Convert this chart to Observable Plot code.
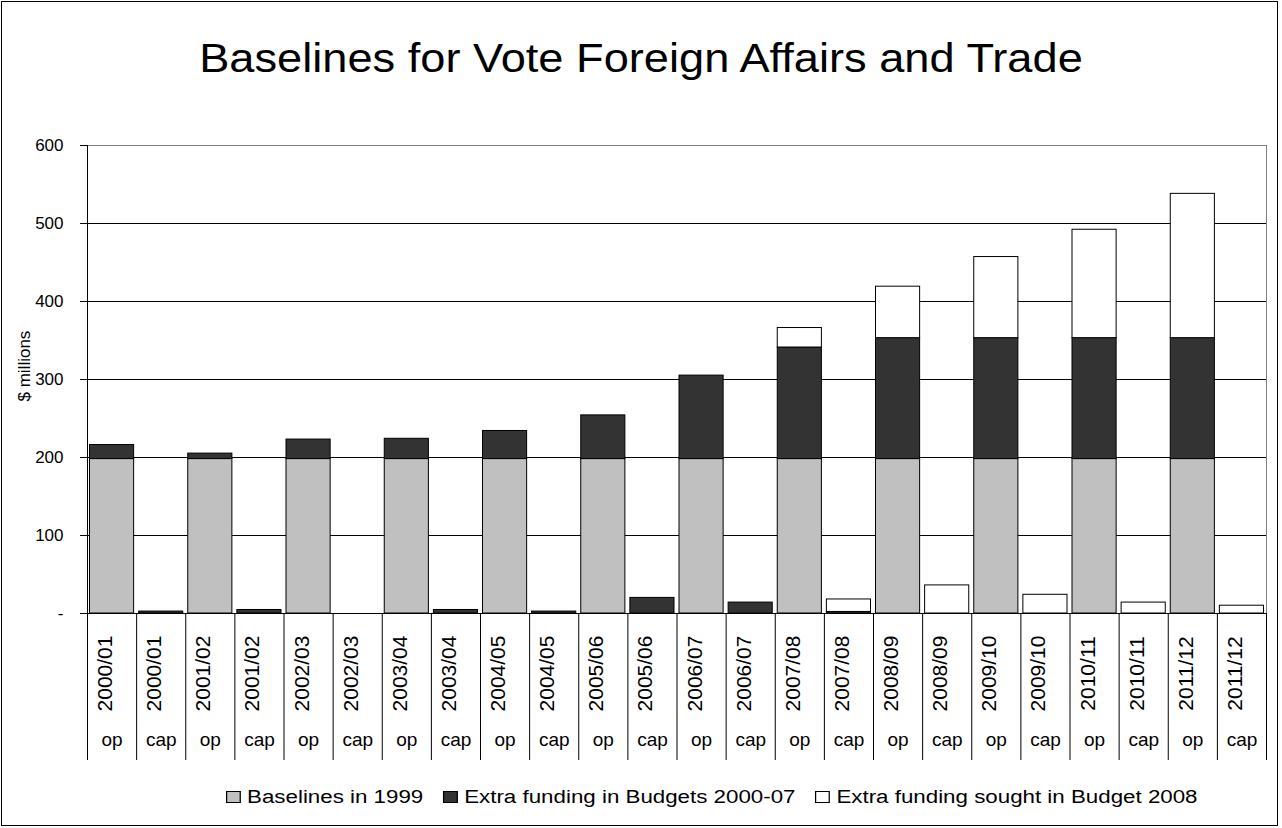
<!DOCTYPE html>
<html><head><meta charset="utf-8">
<script src="https://cdn.jsdelivr.net/npm/d3@7"></script>
<script src="https://cdn.jsdelivr.net/npm/@observablehq/plot@0.6"></script>
<style>
body{margin:0;background:#fff;font-family:Arial,"Liberation Sans",sans-serif;color:#000;}
#wrap{position:relative;width:1282px;height:828px;overflow:hidden;background:#fff;}
#frame{position:absolute;left:1px;top:1px;width:1277px;height:825px;border:1px solid #000;box-sizing:border-box;}
#title{position:absolute;left:0;width:1282px;top:38px;text-align:center;font-size:40px;line-height:40px;white-space:nowrap;}
#title span{display:inline-block;transform:scaleX(1.13);}
#chart{position:absolute;left:0;top:0;}
#legend{position:absolute;top:787px;left:0;width:1282px;height:20px;display:flex;justify-content:center;font-size:18px;line-height:20px;white-space:nowrap;}
#legend .inner{display:flex;gap:16px;transform:translateX(71px) scaleX(1.24);}
#legend .item{display:flex;align-items:center;gap:5px;}
#legend .sw{width:10px;height:10px;border:1px solid #000;}
</style></head>
<body>
<div id="wrap">
  <div id="frame"></div>
  <div id="chart"></div>
  <div id="title"><span>Baselines for Vote Foreign Affairs and Trade</span></div>
  <div id="legend"><div class="inner"></div></div>
</div>
<script>
// ---- data ----
const years = ["2000/01","2001/02","2002/03","2003/04","2004/05","2005/06","2006/07","2007/08","2008/09","2009/10","2010/11","2011/12"];
const kinds = ["op","cap"];
const seriesNames = ["Baselines in 1999","Extra funding in Budgets 2000-07","Extra funding sought in Budget 2008"];
const seriesColors = ["#c0c0c0","#333333","#ffffff"];
const baselineOp  = [198,198,198,198,198,198,198,198,198,198,198,198];
const baselineCap = [0,0,0,0,0,0,0,0,0,0,0,0];
const extraOp     = [18,7,25,26,36,56,107,143,155,155,155,155];
const extraCap    = [2.5,4.5,0,4.5,2.5,20,14,2,0,0,0,0];
const soughtOp    = [0,0,0,0,0,0,0,25,66,104,139,185];
const soughtCap   = [0,0,0,0,0,0,0,16,36,24,14,10];
const yTicks      = [0,100,200,300,400,500,600];
const yTickLabels = ["-","100","200","300","400","500","600"];
const yLabel = "$ millions";

// ---- build table ----
const keys = [];
const cats = [];
years.forEach(y => kinds.forEach(k => { keys.push(y + " " + k); cats.push({key: y + " " + k, year: y, kind: k}); }));
const rows = [];
years.forEach((y, i) => {
  const vals = {op: [baselineOp[i], extraOp[i], soughtOp[i]], cap: [baselineCap[i], extraCap[i], soughtCap[i]]};
  kinds.forEach(k => vals[k].forEach((v, s) => rows.push({key: y + " " + k, series: seriesNames[s], value: v})));
});

const W = 1282, H = 775, mL = 87, mR = 16, mT = 145, mB = 162;
const step = (W - mL - mR) / keys.length;
const plotH = H - mT - mB;
const sepLen = 147;

const chart = Plot.plot({
  width: W, height: H, marginLeft: mL, marginRight: mR, marginTop: mT, marginBottom: mB,
  style: {fontFamily: "Arial, 'Liberation Sans', sans-serif", fontSize: "17px", color: "#000", background: "transparent", overflow: "visible"},
  x: {type: "band", domain: keys, padding: 0, round: false, axis: null},
  y: {domain: [0, 600], ticks: yTicks, tickSize: 7, tickPadding: 17, label: null,
      tickFormat: d => yTickLabels[yTicks.indexOf(d)]},
  color: {domain: seriesNames, range: seriesColors},
  marks: [
    Plot.frame({stroke: "#808080"}),
    Plot.ruleY(yTicks.filter(d => d > 0 && d < 600), {stroke: "#000"}),
    Plot.barY(rows.filter(d => d.value > 0), {x: "key", y: "value", fill: "series", stroke: "#000", strokeWidth: 1,
      order: seriesNames, insetLeft: 2.5, insetRight: 2.5}),
    // left axis line
    Plot.ruleX([keys[0]], {x: d => d, dx: -step / 2, stroke: "#000"}),
    // bottom axis line
    Plot.ruleY([0], {stroke: "#000"}),
    // category separators below the axis
    Plot.ruleX(keys, {x: d => d, dx: -step / 2, insetTop: plotH, insetBottom: -sepLen, stroke: "#000"}),
    Plot.ruleX([keys[keys.length - 1]], {x: d => d, dx: step / 2, insetTop: plotH, insetBottom: -sepLen, stroke: "#000"}),
    // year labels (rotated)
    Plot.text(cats, {x: "key", text: "year", rotate: -90, frameAnchor: "bottom", dy: 60, fontSize: 21, fill: "#000"}),
    // op / cap labels
    Plot.text(cats, {x: "key", text: "kind", frameAnchor: "bottom", dy: 132, fontSize: 19, fill: "#000"}),
    // y axis title
    Plot.text([yLabel], {text: d => d, frameAnchor: "left", dx: -63, dy: 22, rotate: -90, fontSize: 17, fill: "#000"})
  ]
});
document.getElementById("chart").appendChild(chart);

const inner = document.querySelector("#legend .inner");
seriesNames.forEach((n, i) => {
  const it = document.createElement("div"); it.className = "item";
  const sw = document.createElement("div"); sw.className = "sw"; sw.style.background = seriesColors[i];
  const tx = document.createElement("span"); tx.textContent = n;
  it.appendChild(sw); it.appendChild(tx); inner.appendChild(it);
});
</script>
</body></html>
